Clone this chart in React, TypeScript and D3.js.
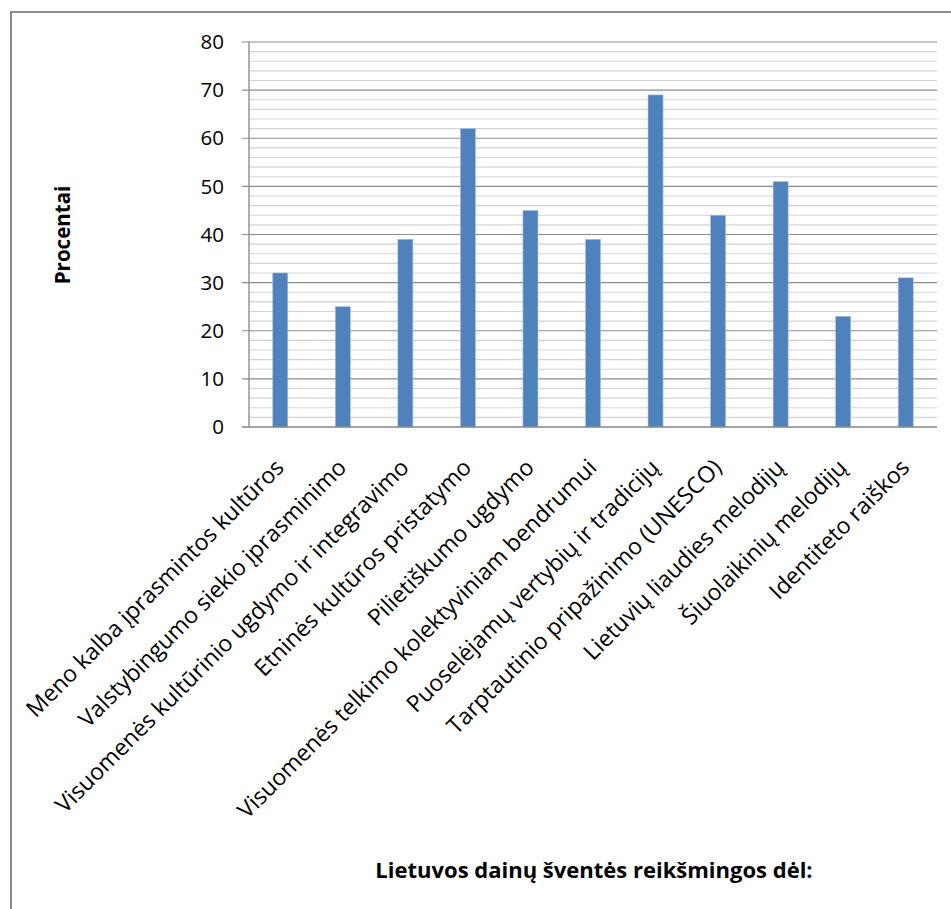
import React from "react";
import * as d3 from "d3";

const categories = [
  "Meno kalba įprasmintos kultūros",
  "Valstybingumo siekio įprasminimo",
  "Visuomenės kultūrinio ugdymo ir integravimo",
  "Etninės kultūros pristatymo",
  "Pilietiškumo ugdymo",
  "Visuomenės telkimo kolektyviniam bendrumui",
  "Puoselėjamų vertybių ir tradicijų",
  "Tarptautinio pripažinimo (UNESCO)",
  "Lietuvių liaudies melodijų",
  "Šiuolaikinių melodijų",
  "Identiteto raiškos",
];
const values = [32, 25, 39, 62, 45, 39, 69, 44, 51, 23, 31];
const majorTicks = [0, 10, 20, 30, 40, 50, 60, 70, 80];
const minorTicks = d3.range(0, 81, 2);
const yTitle = "Procentai";
const xTitle = "Lietuvos dainų šventės reikšmingos dėl:";

const W = 951;
const H = 909;
const plot = { left: 249, right: 937, top: 42, bottom: 427 };
const FONT = "Open Sans, 'Noto Sans', sans-serif";

export default function App() {
  const x = d3
    .scaleBand<string>()
    .domain(categories)
    .range([plot.left, plot.right])
    .paddingInner(0.76)
    .paddingOuter(0.38);
  const y = d3.scaleLinear().domain([0, 80]).range([plot.bottom, plot.top]);

  return (
    <div style={{ position: "absolute", left: 0, top: 0 }}>
      <svg width={W} height={H} style={{ display: "block" }}>
        <rect x={0} y={0} width={W} height={H} fill="#fff" />
        <rect x={11} y={12} width={W + 20} height={H + 20} fill="none" stroke="#8a8a8a" strokeWidth={2} />
        {minorTicks
          .filter((t) => t % 10 !== 0)
          .map((t) => (
            <line key={"m" + t} x1={plot.left} x2={plot.right} y1={y(t)} y2={y(t)} stroke="#d4d4d4" strokeWidth={1.2} />
          ))}
        {majorTicks
          .filter((t) => t !== 0)
          .map((t) => (
            <line key={"M" + t} x1={plot.left - 7} x2={plot.right} y1={y(t)} y2={y(t)} stroke="#8c8c8c" strokeWidth={1.2} />
          ))}
        {categories.map((c, i) => (
          <rect
            key={c}
            x={x(c)!}
            y={y(values[i])}
            width={x.bandwidth()}
            height={y(0) - y(values[i])}
            fill="#4F81BD"
            stroke="#a7bfde"
            strokeWidth={0.6}
          />
        ))}
        <line x1={plot.left} x2={plot.left} y1={plot.top} y2={plot.bottom} stroke="#868686" strokeWidth={1.3} />
        <line x1={plot.left - 7} x2={plot.right} y1={plot.bottom} y2={plot.bottom} stroke="#868686" strokeWidth={1.3} />
        {majorTicks.map((t) => (
          <text
            key={"yl" + t}
            x={224}
            y={y(t)}
            dy="0.35em"
            textAnchor="end"
            fontFamily={FONT}
            fontSize={20.5}
            fill="#000"
          >
            {t}
          </text>
        ))}
        {categories.map((c) => {
          const cx = x(c)! + x.bandwidth() / 2 + 5;
          const cy = 469;
          return (
            <text
              key={"xl" + c}
              x={cx}
              y={cy}
              textAnchor="end"
              transform={`rotate(-45 ${cx} ${cy})`}
              fontFamily={FONT}
              fontSize={23}
              fill="#000"
            >
              {c}
            </text>
          );
        })}
        <text
          x={0}
          y={0}
          transform={`translate(70 235) rotate(-90)`}
          textAnchor="middle"
          fontFamily={FONT}
          fontSize={20.5}
          fontWeight="bold"
        >
          {yTitle}
        </text>
        <text x={594} y={878} textAnchor="middle" fontFamily={FONT} fontSize={22} fontWeight="bold">
          {xTitle}
        </text>
      </svg>
    </div>
  );
}
